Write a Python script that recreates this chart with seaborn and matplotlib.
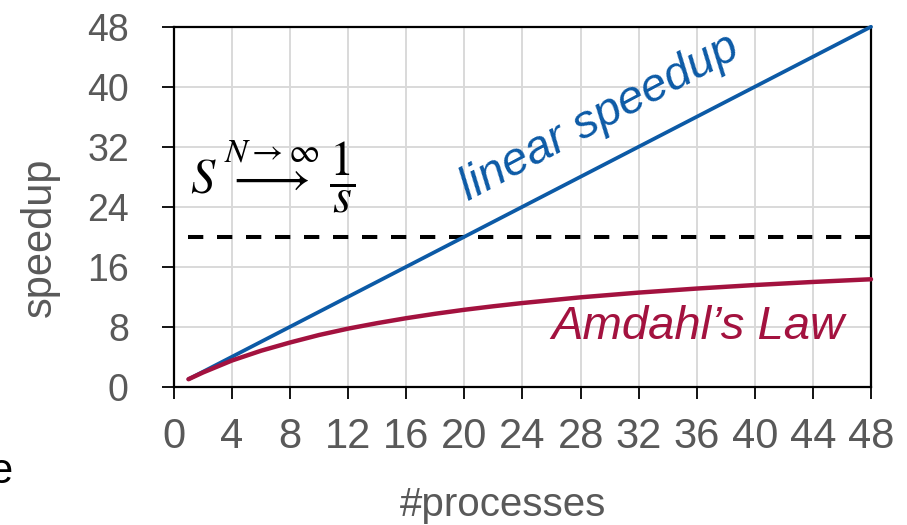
import numpy as np
import pandas as pd
import matplotlib
matplotlib.use("Agg")
import matplotlib.pyplot as plt
import seaborn as sns

# ---------- Data ----------
linear_n = [1, 48]
linear_speedup = [1, 48]

amdahl_n = [1, 2, 3, 4, 6, 8, 10, 12, 14, 16, 18, 20, 22, 24, 28, 32, 36, 40, 44, 48]
amdahl_speedup = [1.0, 1.9, 2.7, 3.5, 4.8, 5.9, 6.9, 7.75, 8.48, 9.14, 9.73, 10.26,
                  10.73, 11.16, 11.92, 12.55, 13.09, 13.56, 13.97, 14.33]

limit_n = [1, 48]
limit_speedup = [20, 20]

x_ticks = list(range(0, 49, 4))
y_ticks = list(range(0, 49, 8))

# ---------- Style ----------
sns.set_theme(style="white")
plt.rcParams['font.family'] = ['Liberation Sans', 'DejaVu Sans']
plt.rcParams['mathtext.fontset'] = 'stix'

BLUE = '#0C5AA6'
RED = '#A3123F'
GREY = '#595959'

fig = plt.figure(figsize=(9.07, 5.25), dpi=100)
ax = fig.add_axes([0.1918, 0.2634, 0.7685, 0.6856])

lin = pd.DataFrame({'n': linear_n, 'speedup': linear_speedup})
amd = pd.DataFrame({'n': amdahl_n, 'speedup': amdahl_speedup})
lim = pd.DataFrame({'n': limit_n, 'speedup': limit_speedup})

sns.lineplot(data=lim, x='n', y='speedup', ax=ax, color='black', lw=2.9,
             clip_on=False, zorder=3)
ax.lines[-1].set_dashes((3.8, 3.4))
sns.lineplot(data=lin, x='n', y='speedup', ax=ax, color=BLUE, lw=2.7,
             clip_on=False, zorder=4)
sns.lineplot(data=amd, x='n', y='speedup', ax=ax, color=RED, lw=3.2,
             clip_on=False, zorder=4)

ax.set_xlim(0, 48)
ax.set_ylim(0, 48)
ax.set_xticks(x_ticks)
ax.set_yticks(y_ticks)
ax.grid(True, color='#D9D9D9', lw=1.4)
ax.set_axisbelow(True)
for sp in ax.spines.values():
    sp.set_color('black')
    sp.set_linewidth(1.6)

ax.tick_params(axis='both', direction='out', length=8.5, width=1.3,
               colors='black', labelcolor=GREY, bottom=True, left=True)
ax.tick_params(axis='x', labelsize=30, pad=13)
ax.tick_params(axis='y', labelsize=27, pad=24)

ax.set_xlabel('#processes', fontsize=29, color=GREY)
ax.set_ylabel('speedup', fontsize=30, color=GREY)
ax.xaxis.set_label_coords(0.472, -0.275)
ax.yaxis.set_label_coords(-0.164, 0.416)

# ---------- Annotations ----------
ax.text(29.3, 35.9, 'linear speedup', color=BLUE, fontsize=34, style='italic',
        rotation=28, ha='center', va='center', rotation_mode='anchor')
ax.text(46.2, 8.0, 'Amdahl\u2019s Law', color=RED, fontsize=34, style='italic',
        ha='right', va='center')
ax.text(6.8, 28.1, r'$S\;\overset{N\to\infty}{\longrightarrow}\;\dfrac{1}{s}$',
        fontsize=35, color='black', ha='center', va='center')

# cut-off text at the left edge
fig.text(12 / 907, 1 - 483 / 525, 'e', fontsize=30, color='black',
         ha='right', va='baseline')

plt.savefig('out.png', dpi=100)
